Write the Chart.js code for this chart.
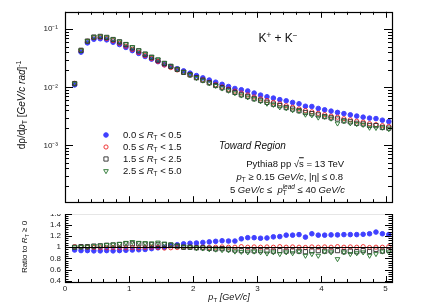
<!DOCTYPE html>
<html>
<head>
<meta charset="utf-8">
<script src="https://cdn.jsdelivr.net/npm/chart.js@4.4.1/dist/chart.umd.min.js"></script>
<style>
body{margin:0;background:#fff}
#fig{position:relative;width:436px;height:305px;overflow:hidden;font-family:"Liberation Sans",Arial,sans-serif;color:#111}
.txt{position:absolute;white-space:nowrap;line-height:1}
sub,sup{font-size:68%;line-height:0;position:relative;vertical-align:baseline}
sub{top:0.35em}
sup{top:-0.55em}
.rot{transform:translate(-50%,-50%) rotate(-90deg)}
.vc{transform:translateY(-50%)}
.rt{transform:translate(-100%,-50%)}
.ct{transform:translate(-50%,-50%)}
</style>
</head>
<body>
<div id="fig">
  <canvas id="ratioChart" width="436" height="105" style="position:absolute;left:0;top:200px"></canvas>
  <canvas id="specChart" width="436" height="214" style="position:absolute;left:0;top:0;background:#fff"></canvas>

  <div class="txt rot" style="left:22px;top:105px;font-size:10px">dρ/d<i>p</i><sub>T</sub> [<i>GeV/c rad</i>]<sup>-1</sup></div>
  <div class="txt rot" style="left:25px;top:247px;font-size:8px">Ratio to <i>R</i><sub>T</sub> ≥ 0</div>
  <div class="txt ct" style="left:229px;top:297px;font-size:9px"><i>p</i><sub>T</sub> <i>[GeV/c]</i></div>

  <div class="txt ct" style="left:278px;top:38px;font-size:12px">K<sup>+</sup> + K<sup>−</sup></div>

  <div class="txt vc" style="left:123px;top:135px;font-size:9.5px">0.0 ≤ <i>R</i><sub>T</sub> &lt; 0.5</div>
  <div class="txt vc" style="left:123px;top:147px;font-size:9.5px">0.5 ≤ <i>R</i><sub>T</sub> &lt; 1.5</div>
  <div class="txt vc" style="left:123px;top:159px;font-size:9.5px">1.5 ≤ <i>R</i><sub>T</sub> &lt; 2.5</div>
  <div class="txt vc" style="left:123px;top:171px;font-size:9.5px">2.5 ≤ <i>R</i><sub>T</sub> &lt; 5.0</div>

  <div class="txt vc" style="left:219px;top:146px;font-size:10px"><i>Toward Region</i></div>
  <div class="txt rt" style="left:344px;top:164px;font-size:9.5px">Pythia8 pp √<span style="text-decoration:overline">s</span> = 13 TeV</div>
  <div class="txt rt" style="left:343px;top:177px;font-size:9.5px"><i>p</i><sub>T</sub> ≥ 0.15 <i>GeV/c</i>, |η| ≤ 0.8</div>
  <div class="txt rt" style="left:345px;top:190px;font-size:9.5px">5 <i>GeV/c</i> ≤ &nbsp;<i>p</i><span style="display:inline-block;vertical-align:middle;font-size:68%;line-height:1;text-align:left;font-style:italic"><span style="display:block">lead</span><span style="display:block;font-style:normal">T</span></span> ≤ 40 <i>GeV/c</i></div>
</div>

<script>
// pT bin centres [GeV/c]
const ptBins = [0.15, 0.25, 0.35, 0.45, 0.55, 0.65, 0.75, 0.85, 0.95, 1.05,
                1.15, 1.25, 1.35, 1.45, 1.55, 1.65, 1.75, 1.85, 1.95, 2.05,
                2.15, 2.25, 2.35, 2.45, 2.55, 2.65, 2.75, 2.85, 2.95, 3.05,
                3.15, 3.25, 3.35, 3.45, 3.55, 3.65, 3.75, 3.85, 3.95, 4.05,
                4.15, 4.25, 4.35, 4.45, 4.55, 4.65, 4.75, 4.85, 4.95, 5.05];

// R_T >= 0 reference spectrum
const inclusiveYield = [0.0116, 0.0430, 0.0620, 0.0720, 0.0735, 0.0700, 0.0640, 0.0580, 0.0515, 0.0452,
                        0.0402, 0.0354, 0.0314, 0.0280, 0.0246, 0.0221, 0.0200, 0.0181, 0.0164, 0.0148,
                        0.0134, 0.0122, 0.0111, 0.0101, 0.0093, 0.0086, 0.0079, 0.0074, 0.0068, 0.00633,
                        0.00590, 0.00551, 0.00515, 0.00482, 0.00452, 0.00425, 0.00400, 0.00377, 0.00356, 0.00337,
                        0.00319, 0.00303, 0.00288, 0.00274, 0.00261, 0.00249, 0.00238, 0.00228, 0.00219, 0.00210];

// ratios to R_T >= 0
const ratioRT0 = [0.95, 0.94, 0.94, 0.935, 0.935, 0.94, 0.935, 0.94, 0.945, 0.95,
                  0.955, 0.96, 0.975, 0.99, 1.00, 1.03, 1.045, 1.06, 1.07, 1.075,
                  1.085, 1.095, 1.105, 1.115, 1.11, 1.11, 1.15, 1.17, 1.17, 1.16,
                  1.165, 1.185, 1.19, 1.215, 1.215, 1.225, 1.18, 1.24, 1.215, 1.215,
                  1.22, 1.22, 1.225, 1.225, 1.225, 1.23, 1.24, 1.27, 1.24, 1.225];
const ratioRT1 = [1.01, 1.005, 1.0, 0.995, 0.99, 0.99, 0.995, 0.99, 0.99, 0.995,
                  0.99, 0.995, 1.0, 0.995, 0.985, 0.99, 0.995, 1.0, 1.0, 0.995,
                  1.0, 0.995, 1.0, 1.005, 1.0, 1.0, 1.01, 1.0, 1.005, 1.0,
                  1.005, 1.0, 1.01, 1.0, 1.005, 1.0, 0.995, 1.005, 1.0, 1.005,
                  1.0, 1.01, 1.0, 1.005, 1.0, 1.01, 0.995, 1.0, 1.0, 1.01];
const ratioRT2 = [1.0, 1.01, 1.01, 1.02, 1.025, 1.035, 1.04, 1.05, 1.06, 1.06,
                  1.06, 1.055, 1.05, 1.05, 1.05, 1.04, 1.02, 1.0, 1.0, 0.99,
                  0.99, 0.98, 0.97, 0.975, 0.965, 0.95, 0.94, 0.94, 0.935, 0.94,
                  0.935, 0.93, 0.94, 0.93, 0.935, 0.93, 0.92, 0.935, 0.94, 0.93,
                  0.935, 0.94, 0.92, 0.93, 0.92, 0.94, 0.925, 0.96, 0.93, 0.945];
const ratioRT3 = [1.0, 1.005, 1.01, 1.02, 1.03, 1.04, 1.05, 1.06, 1.08, 1.095,
                  1.08, 1.075, 1.07, 1.085, 1.065, 1.05, 1.03, 1.01, 1.0, 0.985,
                  0.98, 0.965, 0.96, 0.95, 0.945, 0.925, 0.92, 0.91, 0.925, 0.91,
                  0.89, 0.91, 0.88, 0.91, 0.895, 0.925, 0.85, 0.88, 0.85, 0.925,
                  0.91, 0.79, 0.91, 0.88, 0.895, 0.91, 0.85, 0.88, 0.925, 0.91];

const xTickLabels = [0, 1, 2, 3, 4, 5];
const specDecades = [-4, -3, -2, -1, 0];
const ratioTickLabels = [0.4, 0.6, 0.8, 1.0, 1.2, 1.4, 1.6];

const ratios = [ratioRT0, ratioRT1, ratioRT2, ratioRT3];
const markers = [
    { pointStyle: 'circle',   radius: 2.3, rotation: 0,   color: '#4040ff', fill: '#4040ff', bw: 1 },
    { pointStyle: 'circle',   radius: 2.1, rotation: 0,   color: '#ee2222', fill: 'rgba(0,0,0,0)', bw: 0.9 },
    { pointStyle: 'rect',     radius: 3.0, rotation: 0,   color: '#2a2a2a', fill: 'rgba(0,0,0,0)', bw: 0.9 },
    { pointStyle: 'triangle', radius: 2.7, rotation: 180, color: '#23722a', fill: 'rgba(0,0,0,0)', bw: 0.9 }
];
const legendY = [135, 147, 159, 171];

const FONT = '"Liberation Sans", Arial, sans-serif';
const sup = { '-': '⁻', '0': '⁰', '1': '¹', '2': '²', '3': '³', '4': '⁴' };

function makeDataset(values, i) {
    const m = markers[i];
    return {
        data: ptBins.map((x, k) => ({ x: x, y: values[k] })),
        pointStyle: m.pointStyle,
        pointRadius: m.radius,
        pointRotation: m.rotation,
        pointBorderWidth: m.bw,
        pointBorderColor: m.color,
        pointBackgroundColor: m.fill,
        showLine: false,
        order: 3 - i
    };
}

// frame + inward tick marks, ROOT style
function frameTicks(kind) {
    return {
        id: 'frameTicks_' + kind,
        afterDatasetsDraw(chart) {
            const { ctx, chartArea: a, scales } = chart;
            const xs = scales.x, ys = scales.y;
            ctx.save();
            ctx.strokeStyle = '#000';
            ctx.lineWidth = 1;
            ctx.beginPath();
            // x ticks every 0.2, major at integers
            for (let k = 0; k <= 25; k++) {
                const v = k * 0.2;
                if (v > xs.max) break;
                const px = Math.round(xs.getPixelForValue(v)) + 0.5;
                const len = (k % 5 === 0) ? 6 : 3;
                ctx.moveTo(px, a.bottom); ctx.lineTo(px, a.bottom - len);
                if (kind === 'spec') { ctx.moveTo(px, a.top); ctx.lineTo(px, a.top + len); }
            }
            if (kind === 'spec') {
                for (const e of specDecades) {
                    for (let m = 1; m <= 9; m++) {
                        const v = m * Math.pow(10, e);
                        if (v < ys.min || v > ys.max) continue;
                        const py = Math.round(ys.getPixelForValue(v)) + 0.5;
                        const len = m === 1 ? 8 : 4;
                        ctx.moveTo(a.left, py); ctx.lineTo(a.left + len, py);
                        ctx.moveTo(a.right, py); ctx.lineTo(a.right - len, py);
                    }
                }
            } else {
                for (let k = 10; k <= 40; k++) {
                    const v = k * 0.04;
                    const py = Math.round(ys.getPixelForValue(v)) + 0.5;
                    const len = (k % 5 === 0) ? 7 : 3.5;
                    ctx.moveTo(a.left, py); ctx.lineTo(a.left + len, py);
                    ctx.moveTo(a.right, py); ctx.lineTo(a.right - len, py);
                }
                // reference line at unity
                const p1 = Math.round(ys.getPixelForValue(1)) + 0.5;
                ctx.moveTo(a.left, p1); ctx.lineTo(a.right, p1);
            }
            ctx.stroke();
            ctx.lineWidth = 1.2;
            ctx.strokeRect(Math.round(a.left) + 0.5, Math.round(a.top) + 0.5,
                           Math.round(a.right - a.left), Math.round(a.bottom - a.top));
            ctx.restore();
        }
    };
}

const legendMarkers = {
    id: 'legendMarkers',
    afterDatasetsDraw(chart) {
        const ctx = chart.ctx;
        markers.forEach((m, i) => {
            ctx.save();
            ctx.strokeStyle = m.color;
            ctx.fillStyle = m.fill;
            ctx.lineWidth = m.bw;
            Chart.helpers.drawPoint(ctx, { pointStyle: m.pointStyle, radius: m.radius, rotation: m.rotation, borderWidth: m.bw }, 106, legendY[i]);
            ctx.restore();
        });
    }
};

// top panel: spectra
new Chart(document.getElementById('specChart'), {
    type: 'scatter',
    data: { datasets: ratios.map((r, i) => makeDataset(inclusiveYield.map((v, k) => v * r[k]), i)) },
    options: {
        responsive: false,
        animation: false,
        layout: { padding: { left: 0, right: 44, top: 5, bottom: 1 } },
        plugins: { legend: { display: false }, tooltip: { enabled: false } },
        scales: {
            x: { type: 'linear', min: 0, max: 5.1, display: false },
            y: {
                type: 'logarithmic', min: 1.05e-4, max: 0.2,
                grid: { display: false, drawTicks: false },
                border: { display: false },
                ticks: {
                    autoSkip: false, padding: 7, color: '#222',
                    font: { size: 8, family: FONT },
                    callback: v => {
                        const e = Math.round(Math.log10(v));
                        if (Math.abs(Math.log10(v) - e) > 1e-6 || !specDecades.includes(e)) return '';
                        return '10' + String(e).split('').map(c => sup[c]).join('');
                    }
                },
                afterFit: s => { s.width = 65; }
            }
        }
    },
    plugins: [frameTicks('spec'), legendMarkers]
});

// bottom panel: ratios
new Chart(document.getElementById('ratioChart'), {
    type: 'scatter',
    data: { datasets: ratios.map((r, i) => makeDataset(r, i)) },
    options: {
        responsive: false,
        animation: false,
        layout: { padding: { left: 0, right: 44, top: 13, bottom: 0 } },
        plugins: { legend: { display: false }, tooltip: { enabled: false } },
        scales: {
            x: {
                type: 'linear', min: 0, max: 5.1,
                grid: { display: false, drawTicks: false },
                border: { display: false },
                ticks: {
                    stepSize: 1, includeBounds: false, autoSkip: false, maxRotation: 0,
                    padding: 2, color: '#222', font: { size: 8, family: FONT },
                    callback: v => xTickLabels.includes(v) ? String(v) : ''
                },
                afterFit: s => { s.height = 23; }
            },
            y: {
                type: 'linear', min: 0.38, max: 1.61,
                grid: { display: false, drawTicks: false },
                border: { display: false },
                ticks: {
                    stepSize: 0.2, includeBounds: false, autoSkip: false,
                    padding: 4, color: '#222', font: { size: 8, family: FONT },
                    callback: v => {
                        const r = Math.round(v * 10) / 10;
                        return ratioTickLabels.includes(r) ? String(r) : '';
                    }
                },
                afterFit: s => { s.width = 65; }
            }
        }
    },
    plugins: [frameTicks('ratio')]
});
</script>
</body>
</html>
